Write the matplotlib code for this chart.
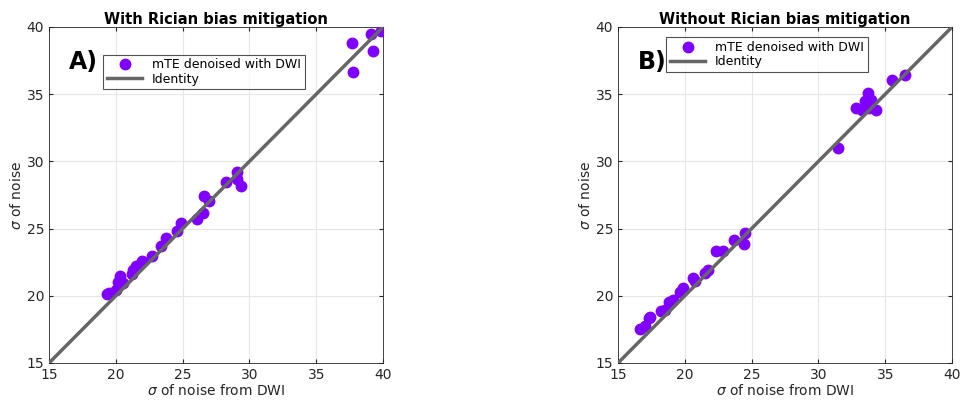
import matplotlib
matplotlib.use('Agg')
import matplotlib.pyplot as plt
import numpy as np

# Panel A: with Rician bias mitigation
a_dwi = [19.32, 19.51, 19.99, 20.19, 20.31, 20.51, 21.24, 21.31, 21.49, 21.98,
         22.73, 23.36, 23.76, 24.56, 24.86, 26.05, 26.55, 26.63, 27.00, 28.22,
         29.05, 29.05, 29.35, 37.65, 37.78, 39.08, 39.27, 39.85]
a_mte = [20.13, 20.18, 20.43, 21.05, 21.47, 20.93, 21.62, 21.92, 22.22, 22.59,
         22.98, 23.73, 24.28, 24.82, 25.44, 25.69, 26.14, 27.45, 27.08, 28.44,
         29.24, 28.67, 28.19, 38.79, 36.63, 39.48, 38.21, 39.70]

# Panel B: without Rician bias mitigation
b_dwi = [16.68, 17.00, 17.33, 17.42, 18.25, 18.50, 18.83, 19.13, 19.63, 19.83,
         20.58, 20.75, 21.50, 21.75, 22.33, 22.83, 23.68, 24.43, 24.50,
         31.45, 32.80, 33.30, 33.70, 33.50, 33.95, 33.75, 34.30, 35.50, 36.45]
b_mte = [17.55, 17.73, 18.38, 18.43, 18.85, 18.98, 19.55, 19.68, 20.30, 20.55,
         21.30, 21.13, 21.68, 21.93, 23.30, 23.30, 24.13, 23.88, 24.68,
         31.00, 33.95, 33.83, 35.08, 34.50, 34.55, 34.00, 33.80, 36.08, 36.45]

ident = [15, 40]
ticks = [15, 20, 25, 30, 35, 40]

PURPLE = '#8000ff'
GRAY = '#666666'

fig = plt.figure(figsize=(9.63, 4.03), dpi=100)
axA = fig.add_axes([49/963, 40/403, 334/963, 336/403])
axB = fig.add_axes([618/963, 40/403, 334/963, 336/403])

panels = [
    (axA, a_dwi, a_mte, 'With Rician bias mitigation', 'A)', (0.464, 0.866)),
    (axB, b_dwi, b_mte, 'Without Rician bias mitigation', 'B)', (0.446, 0.918)),
]

for ax, xs, ys, title, tag, leg_pos in panels:
    ax.plot(xs, ys, 'o', color=PURPLE, markersize=7.5, label='mTE denoised with DWI', zorder=3)
    ax.plot(ident, ident, '-', color=GRAY, linewidth=2.5, label='Identity', zorder=4)
    ax.set_xlim(15, 40)
    ax.set_ylim(15, 40)
    ax.set_xticks(ticks)
    ax.set_yticks(ticks)
    ax.grid(True, color='#e6e6e6', linewidth=0.8)
    ax.set_axisbelow(True)
    ax.tick_params(direction='in', top=True, right=True, labelsize=10,
                   colors='#262626', length=3)
    for sp in ax.spines.values():
        sp.set_color('#262626')
        sp.set_linewidth(0.6)
    ax.set_title(title, fontsize=10.5, fontweight='bold', pad=2)
    ax.set_xlabel(r'$\sigma$ of noise from DWI', fontsize=10, color='#262626', labelpad=1)
    ax.set_ylabel(r'$\sigma$ of noise', fontsize=10, color='#262626', labelpad=2)
    leg = ax.legend(loc='center', bbox_to_anchor=leg_pos, fontsize=9, frameon=True,
                    fancybox=False, edgecolor='#262626', borderpad=0.3,
                    handlelength=2.8, labelspacing=0.1, borderaxespad=0)
    leg.get_frame().set_linewidth(0.8)
    ax.text(0.06, 0.897, tag, transform=ax.transAxes, fontsize=17, fontweight='bold',
            va='center', ha='left', zorder=10)

fig.savefig('out.png', dpi=100)
